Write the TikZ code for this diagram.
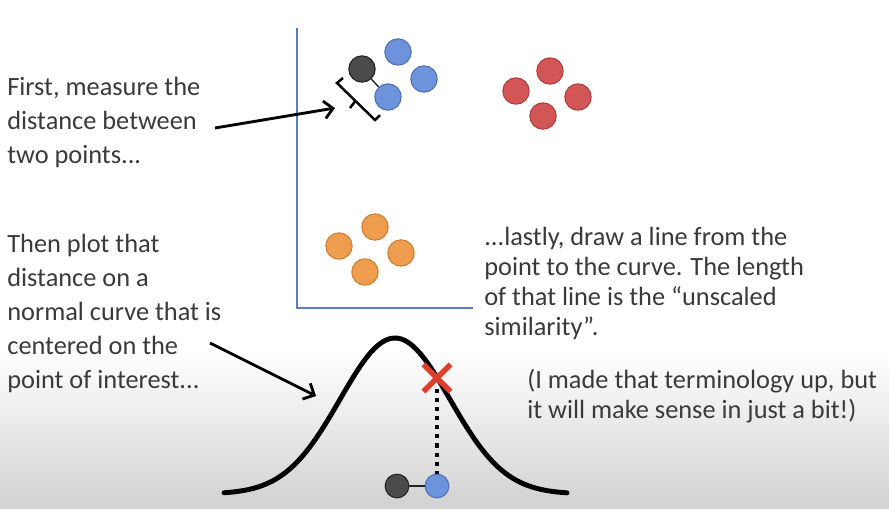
\documentclass[tikz,border=0pt]{standalone}
\usepackage{fontspec}
\setmainfont{Carlito}
\usetikzlibrary{positioning}
\usetikzlibrary{arrows.meta}

\definecolor{textgray}{HTML}{3A3A3A}
\definecolor{axisblue}{HTML}{5B7DC0}
\definecolor{bluedot}{HTML}{6E93DD}
\definecolor{blueedge}{HTML}{4C6FB5}
\definecolor{reddot}{HTML}{D35656}
\definecolor{rededge}{HTML}{B23D3D}
\definecolor{orangedot}{HTML}{EE9D4E}
\definecolor{orangeedge}{HTML}{D27D30}
\definecolor{blackdot}{HTML}{4B4B4B}
\definecolor{blackedge}{HTML}{222222}
\definecolor{crossred}{HTML}{DC3F2C}

\begin{document}
\begin{tikzpicture}[
        x=0.02cm, y=-0.02cm,
        every node/.style={font=\fontsize{15}{19.3}\selectfont, text=textgray},
        dot/.style={circle, minimum size=15pt, inner sep=0pt, line width=0.6pt},
        smalldot/.style={dot, minimum size=13.5pt},
        note/.style={align=left, anchor=north west, inner sep=0pt},
        pointer/.style={line width=1.6pt, -{Straight Barb[length=5pt, width=10pt]}}
    ]

        % Fondo
        \fill[white] (0,0) rectangle (889,508);
        \shade[top color=white, bottom color=gray!36] (0,350) rectangle (889,508);

        % Ejes
        \draw[axisblue, line width=1.1pt] (297,28) -- (297,308) -- (473,308);

        % Grupo azul
        \node[dot, fill=bluedot, draw=blueedge] (b1) at (398,52) {};
        \node[dot, fill=bluedot, draw=blueedge] (b2) at (424,79) {};
        \node[dot, fill=bluedot, draw=blueedge] (b3) at (388,97) {};
        \node[dot, fill=blackdot, draw=blackedge] (k1) at (362,69) {};
        \draw[blackedge, line width=0.8pt] (k1) -- (b3);

        % Corchete
        \draw[black, line width=1.4pt] (343,78) -- (337,83) -- (375,120) -- (380,115);
        \draw[black, line width=1.4pt] (355,101.5) -- (350,108);

        % Grupo rojo
        \node[dot, fill=reddot, draw=rededge] (r1) at (550,71) {};
        \node[dot, fill=reddot, draw=rededge] (r2) at (516,91) {};
        \node[dot, fill=reddot, draw=rededge] (r3) at (578,97) {};
        \node[dot, fill=reddot, draw=rededge] (r4) at (543,116) {};

        % Grupo naranja
        \node[dot, fill=orangedot, draw=orangeedge] (o1) at (375,227) {};
        \node[dot, fill=orangedot, draw=orangeedge] (o2) at (339,246) {};
        \node[dot, fill=orangedot, draw=orangeedge] (o3) at (401,253) {};
        \node[dot, fill=orangedot, draw=orangeedge] (o4) at (365,272) {};

        % Curva normal
        \draw[black, line width=2.8pt, line cap=round]
            plot[domain=224:567, samples=90] (\x, {494-156*exp(-0.5*((\x-395)/55)^2)});

        % Marca sobre la curva
        \node[inner sep=0pt, minimum size=15pt] (cross) at (437,378) {};
        \draw[crossred, line width=3.2pt] (cross.north west) -- (cross.south east);
        \draw[crossred, line width=3.2pt] (cross.north east) -- (cross.south west);

        % Par de puntos abajo
        \node[smalldot, fill=blackdot, draw=blackedge] (k2) at (397,486) {};
        \node[smalldot, fill=bluedot, draw=blueedge] (b4) at (437,486) {};
        \draw[blackedge, line width=0.8pt] (k2) -- (b4);
        \draw[black, line width=2.4pt, dash pattern=on 2.4pt off 2.8pt]
            ([yshift=-6pt]cross.center) -- (b4.north);

        % Textos
        \node[note] (txtA) at (7,77)
            {First, measure the\\distance between\\two points...};
        \node[note] (txtB) at (7,234)
            {Then plot that\\distance on a\\normal curve that is\\centered on the\\point of interest...};
        \node[note, font=\fontsize{15}{17}\selectfont] (txtC) at (484,227)
            {...lastly, draw a line from the\\point to the curve. The length\\of that line is the “unscaled\\similarity”.};
        \node[note, font=\fontsize{15}{17}\selectfont] (txtD) at (527,369)
            {(I made that terminology up, but\\it will make sense in just a bit!)};

        % Flechas
        \coordinate (arrA) at (215,128);
        \coordinate (brk) at (335,108);
        \draw[pointer] (arrA) -- (brk);
        \coordinate (arrB) at (210,343);
        \coordinate (crv) at (316,396);
        \draw[pointer] (arrB) -- (crv);

    \end{tikzpicture}
\end{document}
